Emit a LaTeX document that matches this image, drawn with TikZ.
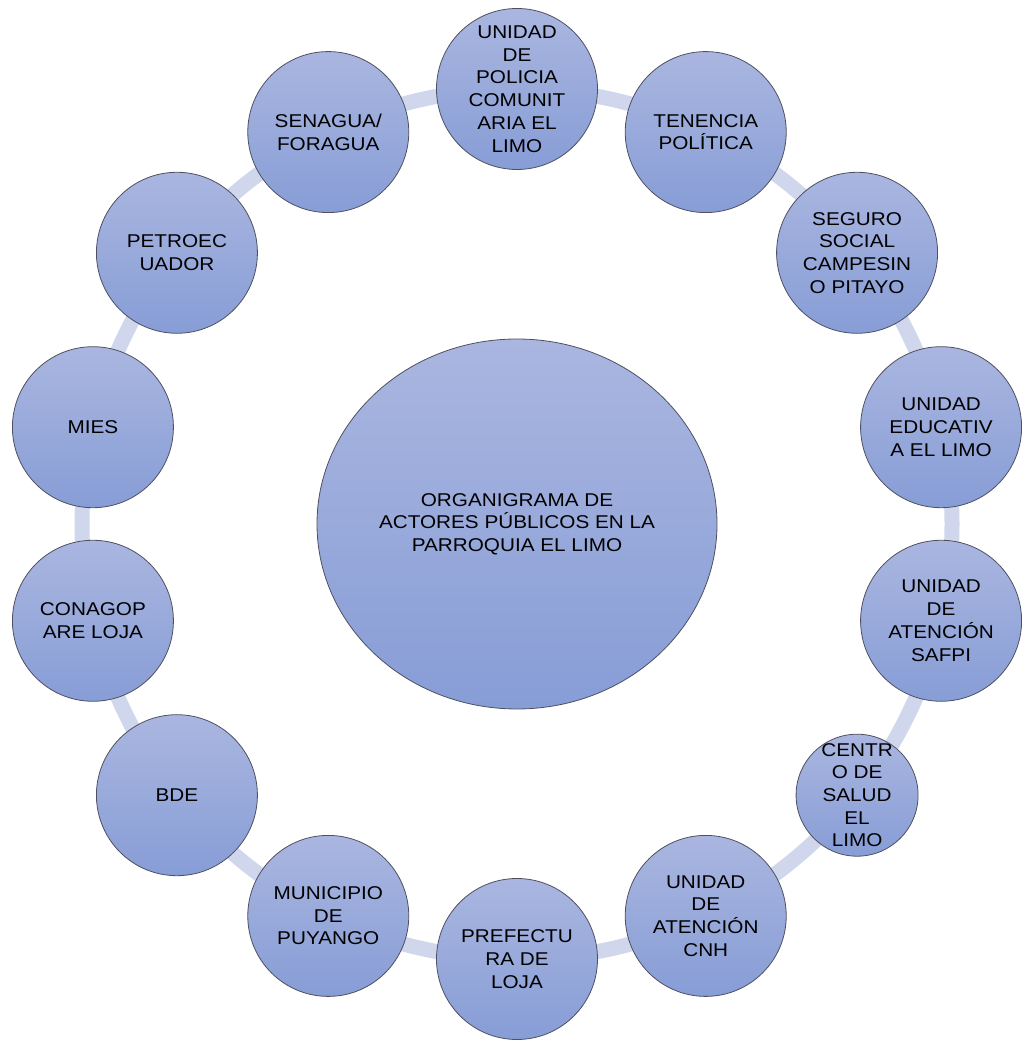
\documentclass[tikz,border=0pt]{standalone}
\usepackage{fontspec}
\setmainfont{Liberation Sans}[FakeStretch=1.12]
\usepackage{tikz}
\usetikzlibrary{shapes.geometric}
\definecolor{balltop}{HTML}{AAB6E0}
\definecolor{ballbot}{HTML}{879DD6}
\definecolor{rim}{HTML}{4E5060}
\definecolor{ringc}{HTML}{D0D7EC}
\tikzset{
  actor/.style={circle, draw=rim, line width=0.8pt, top color=balltop, bottom color=ballbot,
                inner sep=0pt, minimum size=#1},
  lbl/.style={font=\fontsize{18.5}{22.7}\selectfont, text=black, align=center, inner sep=0pt},
  hub/.style={ellipse, draw=rim, line width=0.8pt, top color=balltop, bottom color=ballbot,
              minimum width=400pt, minimum height=370pt, lbl},
  ring/.style={draw=ringc, line width=15pt},
}
\begin{document}
\begin{tikzpicture}[x=1pt, y=1pt]
  \useasboundingbox (0,0) rectangle (1021,1040);
  \node[hub] (org) at (517,516) {ORGANIGRAMA DE\\ACTORES PÚBLICOS EN LA\\PARROQUIA EL LIMO};
  \draw[ring] (org.center) circle[radius=435];
  \foreach \n/\s/\t [count=\i from 0] in {
      policia/161pt/{UNIDAD\\DE\\POLICIA\\COMUNIT\\ARIA EL\\LIMO},
      tenencia/161pt/{TENENCIA\\POLÍTICA},
      seguro/161pt/{SEGURO\\SOCIAL\\CAMPESIN\\O PITAYO},
      educativa/161pt/{UNIDAD\\EDUCATIV\\A EL LIMO},
      safpi/161pt/{UNIDAD\\DE\\ATENCIÓN\\SAFPI},
      salud/122pt/{CENTR\\O DE\\SALUD\\EL\\LIMO},
      cnh/161pt/{UNIDAD\\DE\\ATENCIÓN\\CNH},
      prefectura/161pt/{PREFECTU\\RA DE\\LOJA},
      municipio/161pt/{MUNICIPIO\\DE\\PUYANGO},
      bde/161pt/{BDE},
      conagopare/161pt/{CONAGOP\\ARE LOJA},
      mies/161pt/{MIES},
      petro/161pt/{PETROEC\\UADOR},
      senagua/161pt/{SENAGUA/\\FORAGUA}}
    \node[actor=\s, label={[lbl]center:{\t}}] (\n)
      at ([shift={(90-\i*360/14:435)}]org.center) {};
\end{tikzpicture}
\end{document}
